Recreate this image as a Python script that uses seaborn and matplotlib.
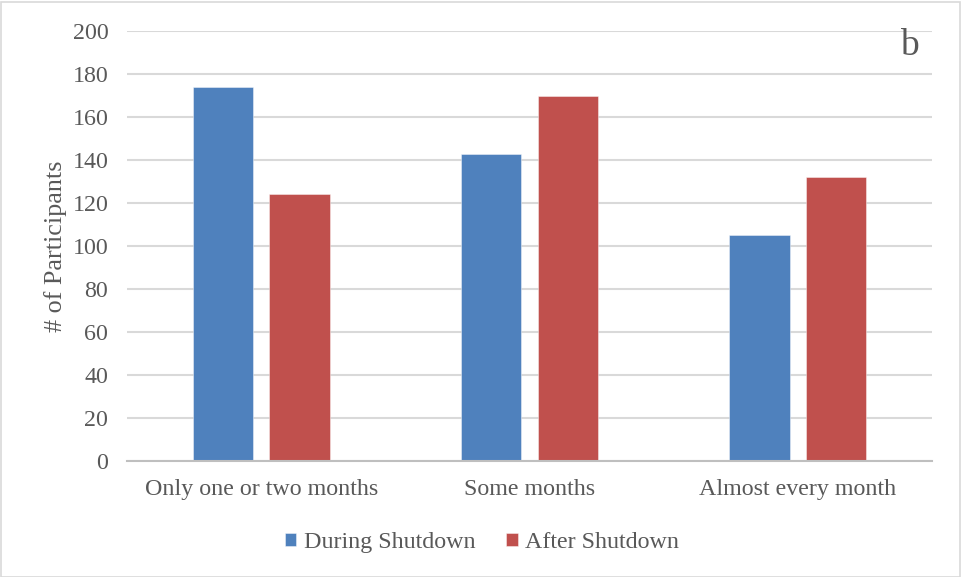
import matplotlib
matplotlib.use("Agg")
import matplotlib.pyplot as plt
from matplotlib.patches import Rectangle
import seaborn as sns
import pandas as pd

# Frequency categories and participant counts per period
categories = ["Only one or two months", "Some months", "Almost every month"]
during_shutdown = [174, 143, 105]
after_shutdown = [124, 170, 132]
series_names = ["During Shutdown", "After Shutdown"]
y_ticks = [0, 20, 40, 60, 80, 100, 120, 140, 160, 180, 200]

df = pd.DataFrame({
    "category": categories * 2,
    "period": [series_names[0]] * 3 + [series_names[1]] * 3,
    "count": during_shutdown + after_shutdown,
})

sns.set_theme(style="white")
plt.rcParams["font.family"] = ["Liberation Serif", "DejaVu Serif"]

text_color = "#595959"
grid_color = "#D9D9D9"
palette = {"During Shutdown": "#4F81BD", "After Shutdown": "#C0504D"}

fig = plt.figure(figsize=(9.61, 5.77), dpi=100)
ax = fig.add_axes([127 / 961, 116 / 577, 805 / 961, 430 / 577])

sns.barplot(
    data=df, x="category", y="count", hue="period",
    order=categories, hue_order=series_names, palette=palette,
    width=0.57, gap=0.21, saturation=1, ax=ax, legend=True,
    edgecolor="white", linewidth=0.6,
)
for p in ax.patches:
    p.set_edgecolor((1, 1, 1, 0.5))

ax.set_ylim(0, 200)
ax.set_xlim(-0.5, 2.5)
ax.set_yticks(y_ticks)
ax.yaxis.grid(True, color=grid_color, linewidth=1.5)
ax.set_axisbelow(True)
for side in ("top", "right", "left"):
    ax.spines[side].set_visible(False)
ax.spines["bottom"].set_color("#BFBFBF")
ax.spines["bottom"].set_linewidth(1.5)
ax.tick_params(axis="both", length=0, labelsize=17.3, colors=text_color)
ax.tick_params(axis="y", pad=13.5)
ax.tick_params(axis="x", pad=13)
ax.set_xlabel("")
ax.set_ylabel("# of Participants", fontsize=18.8, color=text_color, labelpad=4)

ax.text(0.972, 0.965, "b", transform=ax.transAxes, ha="center", va="center",
        fontsize=27, color=text_color)

handles, labels = ax.get_legend_handles_labels()
ax.legend(handles, labels, loc="center", bbox_to_anchor=(482 / 961, 34.5 / 577),
          bbox_transform=fig.transFigure, ncol=2, frameon=False,
          fontsize=17.3, labelcolor=text_color, handlelength=0.48,
          handleheight=0.48, handletextpad=0.3, columnspacing=1.3)

# thin light frame around the whole chart
fig.patches.append(Rectangle((0.5 / 961, 0.5 / 577), 959 / 961, 575 / 577,
                             transform=fig.transFigure, fill=False,
                             edgecolor=grid_color, linewidth=1.2))

fig.savefig("out.png", dpi=100)
